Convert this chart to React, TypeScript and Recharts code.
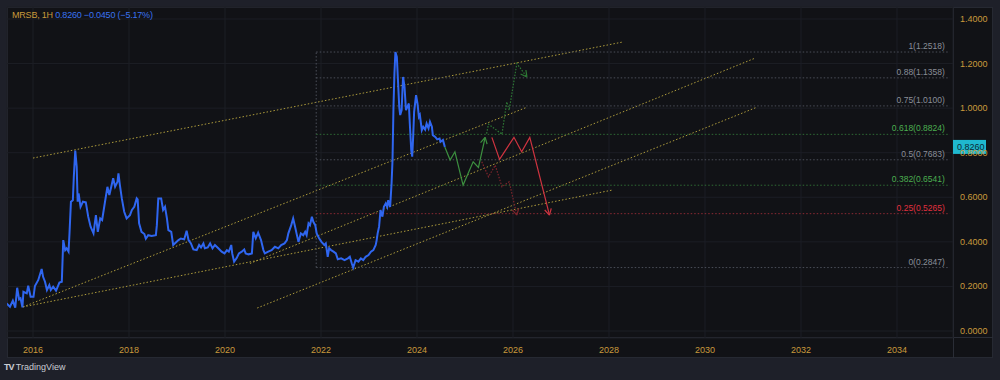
import React from "react";
import { ComposedChart, Line, XAxis, YAxis, CartesianGrid, ReferenceLine } from "recharts";

// MRSB price history (decimal year, close)
const priceTime = [
  2015.45, 2015.52, 2015.58, 2015.63, 2015.67, 2015.71, 2015.74, 2015.78, 2015.8, 2015.87,
  2015.9, 2015.95, 2016.01, 2016.04, 2016.11, 2016.18, 2016.21, 2016.25, 2016.29, 2016.34,
  2016.37, 2016.42, 2016.48, 2016.55, 2016.6, 2016.63, 2016.67, 2016.7, 2016.74, 2016.76,
  2016.79, 2016.83, 2016.85, 2016.88, 2016.91, 2016.93, 2016.95, 2016.99, 2017.04, 2017.1,
  2017.15, 2017.2, 2017.26, 2017.31, 2017.35, 2017.4, 2017.44, 2017.5, 2017.55, 2017.59,
  2017.63, 2017.67, 2017.71, 2017.76, 2017.78, 2017.81, 2017.85, 2017.9, 2017.95, 2018.02,
  2018.06, 2018.11, 2018.16, 2018.18, 2018.21, 2018.26, 2018.32, 2018.35, 2018.4, 2018.47,
  2018.56, 2018.58, 2018.61, 2018.67, 2018.71, 2018.75, 2018.79, 2018.82, 2018.88, 2018.92,
  2018.97, 2019.03, 2019.08, 2019.15, 2019.2, 2019.24, 2019.29, 2019.34, 2019.41, 2019.46,
  2019.5, 2019.55, 2019.58, 2019.64, 2019.69, 2019.74, 2019.79, 2019.86, 2019.93, 2019.99,
  2020.04, 2020.08, 2020.13, 2020.15, 2020.19, 2020.24, 2020.29, 2020.35, 2020.4, 2020.43,
  2020.49, 2020.56, 2020.59, 2020.64, 2020.69, 2020.75, 2020.8, 2020.83, 2020.9, 2020.97,
  2021.04, 2021.11, 2021.17, 2021.24, 2021.29, 2021.32, 2021.38, 2021.42, 2021.46, 2021.49,
  2021.53, 2021.58, 2021.63, 2021.67, 2021.7, 2021.74, 2021.77, 2021.81, 2021.84, 2021.88,
  2021.91, 2021.96, 2022.01, 2022.07, 2022.1, 2022.14, 2022.17, 2022.21, 2022.26, 2022.31,
  2022.35, 2022.42, 2022.49, 2022.56, 2022.6, 2022.64, 2022.67, 2022.72, 2022.78, 2022.83,
  2022.88, 2022.93, 2022.99, 2023.04, 2023.09, 2023.14, 2023.16, 2023.18, 2023.21, 2023.24,
  2023.28, 2023.31, 2023.35, 2023.38, 2023.4, 2023.44, 2023.47, 2023.49, 2023.51, 2023.53,
  2023.55, 2023.58, 2023.6, 2023.63, 2023.65, 2023.68, 2023.7, 2023.71, 2023.74, 2023.77,
  2023.8, 2023.83, 2023.85, 2023.88, 2023.9, 2023.92, 2023.94, 2023.98, 2024.01, 2024.04,
  2024.06, 2024.1, 2024.13, 2024.17, 2024.2, 2024.24, 2024.27, 2024.31, 2024.33, 2024.38,
  2024.42, 2024.47, 2024.49, 2024.54, 2024.56, 2024.58,
];
const priceValue = [
  0.124, 0.109, 0.136, 0.105, 0.194, 0.142, 0.147, 0.106, 0.176, 0.169,
  0.203, 0.154, 0.154, 0.202, 0.229, 0.278, 0.243, 0.221, 0.184, 0.206,
  0.184, 0.199, 0.181, 0.217, 0.221, 0.408, 0.363, 0.371, 0.356, 0.438,
  0.58, 0.587, 0.692, 0.81, 0.737, 0.58, 0.617, 0.557, 0.58, 0.577,
  0.513, 0.468, 0.438, 0.52, 0.445, 0.505, 0.498, 0.58, 0.647, 0.61,
  0.647, 0.685, 0.647, 0.67, 0.707, 0.655, 0.595, 0.535, 0.505, 0.52,
  0.543, 0.557, 0.595, 0.59, 0.483, 0.445, 0.435, 0.414, 0.43, 0.426,
  0.43, 0.475, 0.595, 0.595, 0.543, 0.557, 0.505, 0.453, 0.445, 0.386,
  0.396, 0.408, 0.415, 0.411, 0.45, 0.408, 0.393, 0.366, 0.363, 0.386,
  0.375, 0.393, 0.371, 0.375, 0.393, 0.371, 0.386, 0.371, 0.356, 0.348,
  0.363, 0.356, 0.386, 0.348, 0.311, 0.326, 0.348, 0.356, 0.366, 0.348,
  0.344, 0.348, 0.445, 0.416, 0.441, 0.408, 0.363, 0.348, 0.356, 0.363,
  0.378, 0.371, 0.386, 0.393, 0.408, 0.438, 0.475, 0.505, 0.468, 0.438,
  0.4, 0.438, 0.43, 0.445, 0.43, 0.483, 0.475, 0.513, 0.49, 0.475,
  0.438, 0.416, 0.4, 0.386, 0.393, 0.333, 0.371, 0.363, 0.356, 0.348,
  0.322, 0.326, 0.318, 0.326, 0.333, 0.304, 0.285, 0.318, 0.311, 0.326,
  0.318, 0.333, 0.341, 0.356, 0.363, 0.386, 0.408, 0.438, 0.468, 0.543,
  0.513, 0.557, 0.573, 0.557, 0.587, 0.557, 0.662, 0.767, 1.006, 1.156,
  1.252, 1.23, 1.14, 1.006, 0.969, 0.991, 1.096, 1.14, 1.096, 0.991,
  1.006, 1.021, 0.931, 0.812, 0.782, 0.871, 0.983, 1.058, 1.021, 0.961,
  0.969, 0.901, 0.916, 0.904, 0.931, 0.909, 0.939, 0.916, 0.879, 0.871,
  0.86, 0.864, 0.849, 0.857, 0.842, 0.826,
];

// drawn trend lines: [startYear, startValue, endYear, endValue]
const trendLines = [
  [2016.0, 0.776, 2028.27, 1.296],
  [2015.79, 0.108, 2026.29, 1.004],
  [2015.79, 0.108, 2028.06, 0.632],
  [2020.52, 0.303, 2031.04, 1.224],
  [2020.67, 0.103, 2031.08, 1.004],
];

// fibonacci retracement
const fibStart = 2021.9;
const fibEnd = 2035.1;
const fibRatios = ["1", "0.88", "0.75", "0.618", "0.5", "0.382", "0.25", "0"];
const fibValues = [1.2518, 1.1358, 1.01, 0.8824, 0.7683, 0.6541, 0.5265, 0.2847];
const fibKinds = ["grey", "grey", "grey", "green", "grey", "green", "red", "grey"];

// projected paths
const greenPathTime = [2024.58, 2024.69, 2024.79, 2024.96, 2025.17, 2025.28, 2025.42];
const greenPathValue = [0.826, 0.767, 0.804, 0.655, 0.759, 0.734, 0.869];
const greenAltTime = [2025.45, 2025.49, 2025.77, 2025.87, 2025.92, 2026.08, 2026.29];
const greenAltValue = [0.886, 0.928, 0.883, 1.028, 0.991, 1.2, 1.14];
const redPathTime = [2025.56, 2025.72, 2026.02, 2026.18, 2026.35, 2026.76];
const redPathValue = [0.869, 0.77, 0.869, 0.804, 0.869, 0.52];
const redAltTime = [2025.35, 2025.49, 2025.63, 2025.77, 2025.92, 2026.08];
const redAltValue = [0.759, 0.692, 0.744, 0.647, 0.67, 0.52];

const yearTicks = [2016, 2018, 2020, 2022, 2024, 2026, 2028, 2030, 2032, 2034];
const priceTicks = [0, 0.1, 0.2, 0.3, 0.4, 0.5, 0.6, 0.7, 0.8, 0.9, 1.0, 1.1, 1.2, 1.3, 1.4];
const lastPrice = 0.826;

const GOLD = "#c99a3c";
const FONT = "'Liberation Sans', Arial, sans-serif";
const fibStroke: Record<string, string> = { grey: "#4b4f59", green: "#2f6b34", red: "#8c2a33" };
const fibText: Record<string, string> = { grey: "#8a8e98", green: "#4caf50", red: "#e0303e" };

const pts = (ts: number[], vs: number[]) => ts.map((t, i) => ({ t, v: vs[i] }));

function arrowDot(color: string, count: number) {
  let px = 0;
  let py = 0;
  return (p: any) => {
    const { cx, cy, index } = p;
    if (index < count - 1) {
      px = cx;
      py = cy;
      return <g key={`d${index}`} />;
    }
    const a = Math.atan2(cy - py, cx - px);
    const L = 7;
    const s = 0.5;
    return (
      <g key={`d${index}`}>
        <line x1={cx} y1={cy} x2={cx - L * Math.cos(a - s)} y2={cy - L * Math.sin(a - s)} stroke={color} strokeWidth={1.2} />
        <line x1={cx} y1={cy} x2={cx - L * Math.cos(a + s)} y2={cy - L * Math.sin(a + s)} stroke={color} strokeWidth={1.2} />
      </g>
    );
  };
}

export default function App() {
  return (
    <div style={{ position: "absolute", left: 0, top: 0, width: 1000, height: 380, background: "#1e2029", fontFamily: FONT }}>
      <div style={{ position: "absolute", left: 7, top: 7, width: 986, height: 351, background: "#111216", border: "1px solid #262932", boxSizing: "border-box" }} />
      <div style={{ position: "absolute", left: 7, top: 337, width: 986, height: 1, background: "#2a2d36" }} />
      <div style={{ position: "absolute", left: 953, top: 7, width: 1, height: 351, background: "#2a2d36" }} />
      <div style={{ position: "absolute", left: 0, top: 0 }}>
        <ComposedChart width={1000} height={380} margin={{ top: 7, right: 7, bottom: 22, left: 7 }}>
          <CartesianGrid stroke="#1c1e25" vertical horizontal />
          <XAxis
            type="number"
            dataKey="t"
            domain={[2015.458, 2035.167]}
            allowDataOverflow
            ticks={yearTicks}
            height={20}
            tickSize={0}
            axisLine={false}
            tickLine={false}
            tick={(p: any) => (
              <text x={p.x} y={p.y + 12.5} textAnchor="middle" fill={GOLD} fontSize={9} fontFamily={FONT}>
                {p.payload.value}
              </text>
            )}
          />
          <YAxis
            type="number"
            dataKey="v"
            orientation="right"
            domain={[-0.0314, 1.4538]}
            allowDataOverflow
            ticks={priceTicks}
            width={40}
            tickSize={0}
            axisLine={false}
            tickLine={false}
            tick={(p: any) => (
              <text x={p.x + 5} y={p.y + 3} textAnchor="start" fill={GOLD} fontSize={9} fontFamily={FONT}>
                {Number(p.payload.value).toFixed(4)}
              </text>
            )}
          />
          {trendLines.map((l, i) => (
            <Line
              key={`tl${i}`}
              data={[{ t: l[0], v: l[1] }, { t: l[2], v: l[3] }]}
              dataKey="v"
              stroke="#ad9b3b"
              strokeWidth={1}
              strokeDasharray="1.5 2"
              dot={false}
              isAnimationActive={false}
            />
          ))}
          <Line
            data={[{ t: fibStart, v: fibValues[7] }, { t: fibStart, v: fibValues[0] }]}
            dataKey="v"
            stroke="#4b4f59"
            strokeWidth={1}
            strokeDasharray="1.5 2"
            dot={false}
            isAnimationActive={false}
          />
          {fibValues.map((fv, i) => (
            <Line
              key={`fib${i}`}
              data={[{ t: fibStart, v: fv }, { t: fibEnd, v: fv }]}
              dataKey="v"
              stroke={fibStroke[fibKinds[i]]}
              strokeWidth={1}
              strokeDasharray="1.5 2"
              dot={false}
              isAnimationActive={false}
              label={(p: any) =>
                p.index === 1 ? (
                  <text key="lb" x={p.x - 5} y={p.y - 3} textAnchor="end" fill={fibText[fibKinds[i]]} fontSize={8.5} fontFamily={FONT}>
                    {`${fibRatios[i]}(${fv.toFixed(4)})`}
                  </text>
                ) : (
                  <g key="lb0" />
                )
              }
            />
          ))}
          <Line data={pts(priceTime, priceValue)} dataKey="v" stroke="#2f66f0" strokeWidth={2} dot={false} isAnimationActive={false} />
          <Line
            data={pts(greenAltTime, greenAltValue)}
            dataKey="v"
            stroke="#2e7a35"
            strokeWidth={1.2}
            strokeDasharray="1.5 1.5"
            dot={arrowDot("#2e7a35", greenAltTime.length)}
            isAnimationActive={false}
          />
          <Line
            data={pts(redAltTime, redAltValue)}
            dataKey="v"
            stroke="#7d252c"
            strokeWidth={1.2}
            strokeDasharray="1.5 1.5"
            dot={arrowDot("#7d252c", redAltTime.length)}
            isAnimationActive={false}
          />
          <Line
            data={pts(greenPathTime, greenPathValue)}
            dataKey="v"
            stroke="#3c8f3f"
            strokeWidth={1.2}
            dot={arrowDot("#3c8f3f", greenPathTime.length)}
            isAnimationActive={false}
          />
          <Line
            data={pts(redPathTime, redPathValue)}
            dataKey="v"
            stroke="#cf3440"
            strokeWidth={1.2}
            dot={arrowDot("#cf3440", redPathTime.length)}
            isAnimationActive={false}
          />
          <ReferenceLine
            y={lastPrice}
            stroke="none"
            label={(p: any) => {
              const vb = p.viewBox;
              const x = vb.x + vb.width;
              return (
                <g>
                  <rect x={x} y={vb.y - 7} width={33} height={14} fill="#1fb8cf" />
                  <text x={x + 4} y={vb.y + 3.5} fill="#0c2a33" fontSize={9} fontFamily={FONT}>
                    {lastPrice.toFixed(4)}
                  </text>
                </g>
              );
            }}
          />
        </ComposedChart>
      </div>
      <div style={{ position: "absolute", left: 12, top: 10, fontSize: 9, whiteSpace: "pre", color: GOLD, letterSpacing: -0.2 }}>
        MRSB, 1H <span style={{ color: "#3a72f0" }}>0.8260 −0.0450 (−5.17%)</span>
      </div>
      <div style={{ position: "absolute", left: 4, top: 362, fontSize: 9, color: "#c9ccd3", whiteSpace: "pre" }}>
        <b style={{ letterSpacing: -1 }}>TV</b> TradingView
      </div>
    </div>
  );
}
